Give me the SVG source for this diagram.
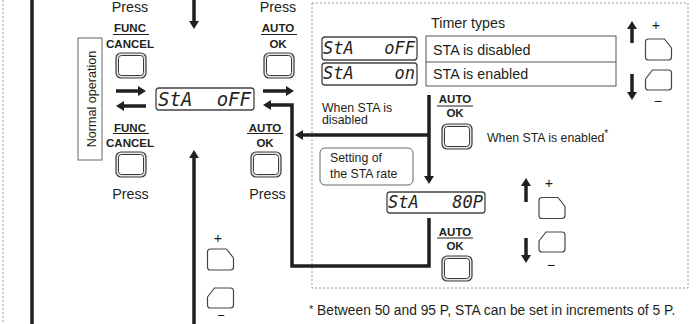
<svg xmlns="http://www.w3.org/2000/svg" xmlns:xlink="http://www.w3.org/1999/xlink" width="699" height="324" viewBox="0 0 699 324">
<style>
text{font-family:"Liberation Sans",Arial,sans-serif;fill:#231f20}
.t14{font-size:14.3px}
.t12{font-size:12.3px}
.key{font-size:11.5px;font-weight:bold;text-anchor:middle}
.mid{text-anchor:middle}
.lcd{font-family:"DejaVu Sans Mono",monospace;font-style:italic;fill:#231f20}
.ul{stroke:#231f20;stroke-width:1}
.conn{fill:none;stroke:#231f20;stroke-width:3.5}
.conn2{fill:none;stroke:#231f20;stroke-width:3.5;marker-end:url(#ah)}
.dot{fill:none;stroke:#9a9a9a;stroke-width:1;stroke-dasharray:2 2}
.disp{fill:#fff;stroke:#444;stroke-width:1.3}
.box{fill:#fff;stroke:#666;stroke-width:1}
.pm{fill:#fff;stroke:#444;stroke-width:1.2;stroke-linejoin:round}
</style>
<defs>
<marker id="ah" markerUnits="userSpaceOnUse" viewBox="0 0 8 10" markerWidth="8" markerHeight="10" refX="1" refY="5" orient="auto">
<path d="M0,0 L8,5 L0,10 z" fill="#231f20"/>
</marker>
<g id="btn">
<rect x="0" y="0" width="30" height="25" rx="5" fill="#e6e6e6" stroke="#3a3a3a" stroke-width="1.2"/>
<rect x="2.5" y="2.5" width="25" height="20" rx="3" fill="#fff" stroke="#3a3a3a" stroke-width="1"/>
</g>
<path id="plusBtn" class="pm" d="M3,0 H19 L26,9 V18 Q26,21 23,21 H3 Q0,21 0,18 V3 Q0,0 3,0 Z"/>
<path id="minusBtn" class="pm" d="M7,0 H23 Q26,0 26,3 V17 Q26,20 23,20 H3 Q0,20 0,17 V9 Z"/>
</defs>

<!-- frames -->
<line class="dot" x1="3" y1="0" x2="3" y2="324"/>
<rect class="dot" x="312" y="3" width="376" height="285"/>

<!-- connectors -->
<g id="connectors">
<line class="conn" x1="32" y1="0" x2="32" y2="324"/>
<line class="conn2" x1="194" y1="0" x2="194" y2="22"/>
<line class="conn2" x1="194" y1="324" x2="194" y2="157"/>
<line class="conn2" x1="116" y1="91" x2="139" y2="91"/>
<line class="conn2" x1="146" y1="106" x2="123" y2="106"/>
<line class="conn2" x1="263" y1="91" x2="287" y2="91"/>
<path class="conn2" d="M429,218 V266 H292 V105 H270"/>
<path class="conn2" d="M429,95 V177"/>
<line class="conn2" x1="429" y1="135" x2="302" y2="135"/>
<line class="conn2" x1="632" y1="43" x2="632" y2="28"/>
<line class="conn2" x1="632" y1="74" x2="632" y2="93"/>
<line class="conn2" x1="526" y1="202" x2="526" y2="185"/>
<line class="conn2" x1="526" y1="238" x2="526" y2="256"/>
</g>

<!-- normal operation -->
<g id="normal-operation">
<rect class="box" x="78" y="38" width="24" height="122"/>
<text transform="translate(96,99) rotate(-90)" class="mid" style="font-size:12.6px">Normal operation</text>
</g>

<!-- FUNC/CANCEL top -->
<g id="func-top">
<text class="t14 mid" x="130" y="12">Press</text>
<text class="key" x="130" y="32">FUNC</text>
<line class="ul" x1="113" y1="34.5" x2="149" y2="34.5"/>
<text class="key" x="130" y="47.5">CANCEL</text>
<use xlink:href="#btn" x="116" y="53"/>
</g>

<!-- AUTO/OK top -->
<g id="auto-top">
<text class="t14 mid" x="278" y="12">Press</text>
<text class="key" x="278" y="32">AUTO</text>
<line class="ul" x1="261" y1="34.5" x2="297" y2="34.5"/>
<text class="key" x="278" y="47.5">OK</text>
<use xlink:href="#btn" x="264" y="53"/>
</g>

<!-- FUNC/CANCEL bottom -->
<g id="func-bottom">
<text class="key" x="130" y="131.5">FUNC</text>
<line class="ul" x1="113" y1="133.5" x2="149" y2="133.5"/>
<text class="key" x="130" y="146.5">CANCEL</text>
<use xlink:href="#btn" x="116" y="152"/>
<text class="t14 mid" x="130.5" y="199">Press</text>
</g>

<!-- AUTO/OK bottom -->
<g id="auto-bottom">
<text class="key" x="265" y="131.5">AUTO</text>
<line class="ul" x1="247" y1="133.5" x2="283" y2="133.5"/>
<text class="key" x="265" y="146.5">OK</text>
<use xlink:href="#btn" x="251" y="152"/>
<text class="t14 mid" x="267.5" y="199">Press</text>
</g>

<!-- main display -->
<g id="display-main">
<rect class="disp" x="156" y="88" width="98" height="22" rx="3"/>
<text class="lcd" x="158" y="105.5" style="font-size:19px">StA</text>
<text class="lcd" x="251" y="105.5" style="font-size:19px" text-anchor="end">oFF</text>
</g>

<!-- timer types -->
<g id="timer-types">
<text class="t14" x="431" y="28">Timer types</text>
<rect class="disp" x="322" y="37" width="95" height="23" rx="3"/>
<text class="lcd" x="323" y="53.5" style="font-size:17px">StA</text>
<text class="lcd" x="415" y="53.5" style="font-size:17px" text-anchor="end">oFF</text>
<rect class="disp" x="322" y="63" width="95" height="22" rx="3"/>
<text class="lcd" x="323" y="79" style="font-size:17px">StA</text>
<text class="lcd" x="415" y="79" style="font-size:17px" text-anchor="end">on</text>
<rect x="426" y="36" width="190" height="50" fill="#fff" stroke="#555" stroke-width="1"/>
<line x1="426" y1="62" x2="616" y2="62" stroke="#555" stroke-width="1"/>
<text class="t14" x="433" y="55">STA is disabled</text>
<text class="t14" x="433" y="79">STA is enabled</text>
</g>

<!-- plus/minus top right -->
<g id="pm-top">
<text class="t14 mid" x="656" y="30">+</text>
<use xlink:href="#plusBtn" x="645.5" y="39"/>
<use xlink:href="#minusBtn" x="645.5" y="70"/>
<text class="t14 mid" x="658" y="106">−</text>
</g>

<!-- disabled label -->
<g id="label-disabled">
<text class="t12" x="322" y="111.5">When STA is</text>
<text class="t12" x="322" y="124">disabled</text>
</g>

<!-- AUTO/OK middle -->
<g id="auto-mid">
<text class="key" x="455" y="103">AUTO</text>
<line class="ul" x1="437" y1="106" x2="473" y2="106"/>
<text class="key" x="455" y="117">OK</text>
<use xlink:href="#btn" x="442" y="124"/>
<text class="t12" x="487" y="142">When STA is enabled<tspan dy="-5" style="font-size:10px">*</tspan></text>
</g>

<!-- setting box -->
<g id="setting-rate">
<rect x="320" y="148" width="93" height="37" rx="5" fill="#fff" stroke="#666" stroke-width="1"/>
<text class="t12" x="330" y="162">Setting of</text>
<text class="t12" x="330" y="178">the STA rate</text>
</g>

<!-- 80P display -->
<g id="display-rate">
<rect class="disp" x="387" y="192" width="98" height="21" rx="3"/>
<text class="lcd" x="388" y="207.5" style="font-size:17px">StA</text>
<text class="lcd" x="483" y="207.5" style="font-size:17px" text-anchor="end">80P</text>
</g>

<!-- AUTO/OK bottom right -->
<g id="auto-rate">
<text class="key" x="455" y="236">AUTO</text>
<line class="ul" x1="437" y1="238" x2="473" y2="238"/>
<text class="key" x="455" y="250">OK</text>
<use xlink:href="#btn" x="442" y="256"/>
</g>

<!-- plus/minus middle right -->
<g id="pm-rate">
<text class="t14 mid" x="549" y="188">+</text>
<use xlink:href="#plusBtn" x="539" y="197.5"/>
<use xlink:href="#minusBtn" x="539" y="232"/>
<text class="t14 mid" x="551" y="269.5">−</text>
</g>

<!-- plus/minus left -->
<g id="pm-left">
<text class="t14 mid" x="218" y="243">+</text>
<use xlink:href="#plusBtn" x="207.5" y="249"/>
<use xlink:href="#minusBtn" x="207.5" y="288"/>
<text class="mid" x="221" y="319.5" style="font-size:13px">−</text>
</g>

<!-- footnote -->
<g id="footnote">
<text x="309" y="315" style="font-size:13.8px"><tspan style="font-size:11px" dy="-2">*</tspan><tspan dy="2"> Between 50 and 95 P, STA can be set in increments of 5 P.</tspan></text>
</g>
</svg>
